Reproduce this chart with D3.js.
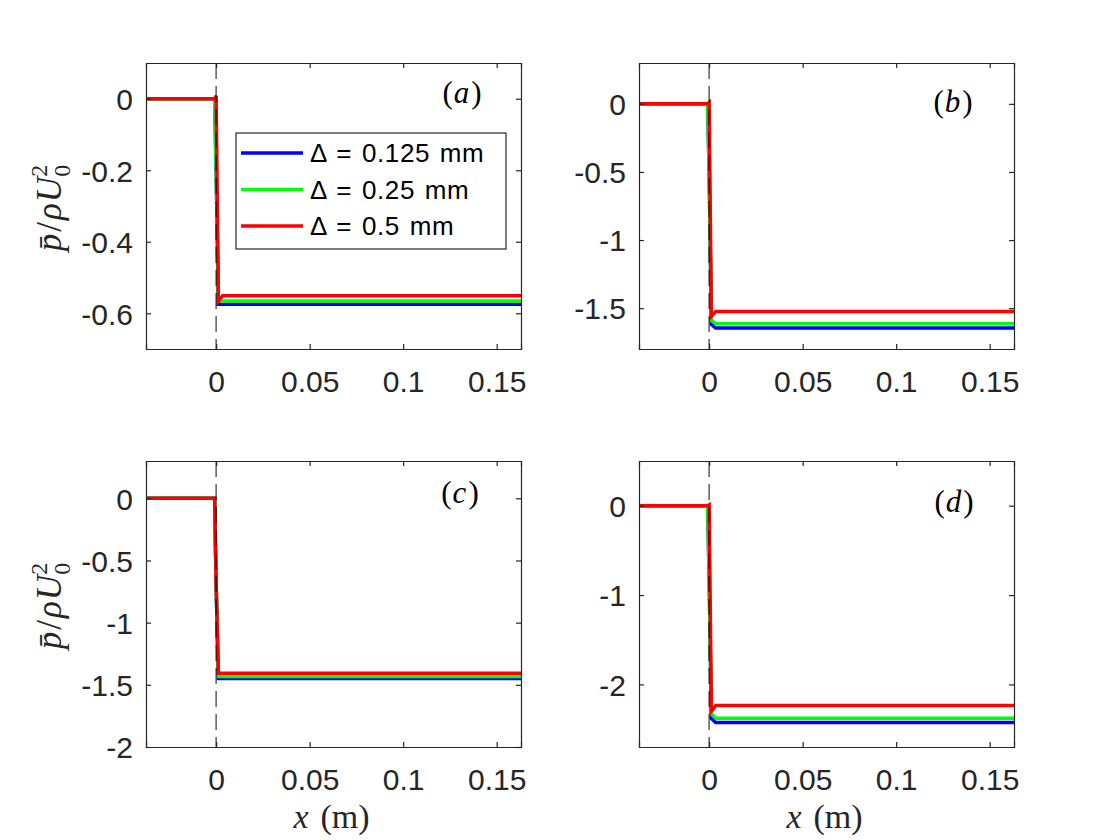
<!DOCTYPE html>
<html>
<head>
<meta charset="utf-8">
<script src="https://cdn.jsdelivr.net/npm/d3@7"></script>
<style>
  body { margin: 0; background: #fff; }
  svg { display: block; }
</style>
</head>
<body>
<div class="chart"></div>
<script>
// x samples along the channel (m), shared by every curve
const xGrid = [-0.0375, -0.0008, 0, 0.0012, 0.0035, 0.163];

// mean pressure p/rhoU0^2
const aBlue  = [0, 0, -0.2, -0.575, -0.575, -0.575];
const aGreen = [0, 0, -0.2, -0.566, -0.566, -0.566];
const aRed   = [0, 0, 0.008, -0.566, -0.551, -0.551];

const bBlue  = [0, 0, -0.5, -1.62, -1.646, -1.646];
const bGreen = [0, 0, -0.5, -1.59, -1.614, -1.614];
const bRed   = [0, 0, 0.01, -1.56, -1.524, -1.524];

const cBlue  = [0, 0, -0.7, -1.449, -1.449, -1.449];
const cGreen = [0, 0, -0.7, -1.433, -1.433, -1.433];
const cRed   = [0, 0, -0.68, -1.406, -1.406, -1.406];

const dBlue  = [0, 0, -0.8, -2.38, -2.427, -2.427];
const dGreen = [0, 0, -0.8, -2.33, -2.378, -2.378];
const dRed   = [0, 0, 0.01, -2.30, -2.237, -2.237];

const seriesNames = ["\u0394 = 0.125 mm", "\u0394 = 0.25 mm", "\u0394 = 0.5 mm"];
const seriesColors = ["#0000ff", "#00ff00", "#ff0000"];

const xTicks = [0, 0.05, 0.1, 0.15];
const xTickLabels = ["0", "0.05", "0.1", "0.15"];

const panels = [
    {tag: "a", left: 146, top: 63, yDomain: [-0.7, 0.1], yTicks: [0, -0.2, -0.4, -0.6],
     yTickLabels: ["0", "-0.2", "-0.4", "-0.6"], series: [aBlue, aGreen, aRed],
     labelX: 462, labelY: 103, yLabel: true, xLabel: false, legend: true},
    {tag: "b", left: 639, top: 63, yDomain: [-1.8, 0.3], yTicks: [0, -0.5, -1, -1.5],
     yTickLabels: ["0", "-0.5", "-1", "-1.5"], series: [bBlue, bGreen, bRed],
     labelX: 953, labelY: 112, yLabel: false, xLabel: false, legend: false},
    {tag: "c", left: 146, top: 461, yDomain: [-2, 0.3], yTicks: [0, -0.5, -1, -1.5, -2],
     yTickLabels: ["0", "-0.5", "-1", "-1.5", "-2"], series: [cBlue, cGreen, cRed],
     labelX: 460, labelY: 503, yLabel: true, xLabel: true, legend: false},
    {tag: "d", left: 639, top: 461, yDomain: [-2.7, 0.5], yTicks: [0, -1, -2],
     yTickLabels: ["0", "-1", "-2"], series: [dBlue, dGreen, dRed],
     labelX: 954, labelY: 512, yLabel: false, xLabel: true, legend: false}
];

const W = 1120, H = 840;
const boxW = 375, boxH = 286;
const axisColor = "#262626";
const tickFont = "'Liberation Sans', Arial, Helvetica, sans-serif";
const mathFont = "'Liberation Serif', 'Times New Roman', serif";

const svg = d3.select(".chart").append("svg")
    .attr("width", W)
    .attr("height", H);

function drawPanel(p) {
    const g = svg.append("g")
        .attr("transform", `translate(${p.left},${p.top})`);

    const x = d3.scaleLinear().domain([xGrid[0], xGrid[xGrid.length - 1]]).range([0, boxW]);
    const y = d3.scaleLinear().domain(p.yDomain).range([boxH, 0]);

    const clip = "clip-" + p.tag;
    g.append("clipPath").attr("id", clip)
        .append("rect").attr("width", boxW).attr("height", boxH);

    const line = d3.line()
        .x((d, i) => x(xGrid[i]))
        .y(d => y(d));

    p.series.forEach((s, i) => {
        g.append("path")
            .datum(s)
            .attr("clip-path", `url(#${clip})`)
            .attr("fill", "none")
            .attr("stroke", seriesColors[i])
            .attr("stroke-width", 3.5)
            .attr("stroke-linejoin", "miter")
            .attr("d", line);
    });

    // dashed marker at x = 0
    g.append("line")
        .attr("x1", x(0)).attr("x2", x(0))
        .attr("y1", 0).attr("y2", boxH)
        .attr("stroke", "#000")
        .attr("stroke-opacity", 0.6)
        .attr("stroke-width", 1.6)
        .attr("stroke-dasharray", "16,7");

    // axes, matlab style: ticks inward, mirrored on top and right
    const bottom = d3.axisBottom(x).tickValues(xTicks).tickSize(-5).tickFormat((d, i) => xTickLabels[i]);
    const top = d3.axisTop(x).tickValues(xTicks).tickSize(-5).tickFormat("");
    const left = d3.axisLeft(y).tickValues(p.yTicks).tickSize(-5).tickFormat((d, i) => p.yTickLabels[i]);
    const right = d3.axisRight(y).tickValues(p.yTicks).tickSize(-5).tickFormat("");

    const gb = g.append("g").attr("transform", `translate(0,${boxH})`).call(bottom);
    g.append("g").call(top);
    const gl = g.append("g").call(left);
    g.append("g").attr("transform", `translate(${boxW},0)`).call(right);

    g.selectAll(".domain").attr("stroke", axisColor).attr("stroke-width", 1.2);
    g.selectAll(".tick line").attr("stroke", axisColor).attr("stroke-width", 1.2);

    gb.selectAll("text")
        .attr("y", 43)
        .attr("dy", null)
        .style("font-family", tickFont)
        .style("font-size", "30px")
        .style("fill", axisColor);
    gl.selectAll("text")
        .attr("x", -13)
        .attr("dy", "0.36em")
        .style("font-family", tickFont)
        .style("font-size", "30px")
        .style("fill", axisColor);

    // panel tag, e.g. (a)
    const tag = svg.append("text")
        .attr("x", p.labelX)
        .attr("y", p.labelY)
        .attr("text-anchor", "middle")
        .style("font-family", mathFont)
        .style("font-size", "31px")
        .style("fill", "#000");
    tag.append("tspan").text("(");
    tag.append("tspan").attr("dx", 1).style("font-style", "italic").text(p.tag);
    tag.append("tspan").attr("dx", 2).text(")");

    if (p.yLabel) {
        const cy = p.top + boxH / 2 + 2;
        const t = svg.append("text")
            .attr("transform", `translate(61,${cy}) rotate(-90)`)
            .attr("text-anchor", "middle")
            .style("font-family", mathFont)
            .style("font-size", "35px")
            .style("fill", axisColor);
        t.append("tspan").style("font-style", "italic").text("p\u0304");
        t.append("tspan").attr("dx", 2).text("/");
        t.append("tspan").attr("dx", 2).style("font-style", "italic").text("\u03c1");
        t.append("tspan").attr("dx", 1).style("font-style", "italic").text("U");
        t.append("tspan").attr("dy", -14).style("font-size", "24px").text("2");
        t.append("tspan").attr("dx", -12).attr("dy", 23).style("font-size", "24px").text("0");
    }

    if (p.xLabel) {
        const t = svg.append("text")
            .attr("x", p.left + boxW / 2 - 2)
            .attr("y", p.top + boxH + 81)
            .attr("text-anchor", "middle")
            .style("font-family", mathFont)
            .style("font-size", "34px")
            .style("fill", axisColor);
        t.append("tspan").style("font-style", "italic").text("x");
        t.append("tspan").attr("dx", 12).text("(m)");
    }

    if (p.legend) {
        const lg = g.append("g").attr("transform", "translate(90,70)");
        lg.append("rect")
            .attr("width", 270).attr("height", 116)
            .attr("fill", "#fff")
            .attr("stroke", axisColor)
            .attr("stroke-width", 1.2);
        seriesNames.forEach((name, i) => {
            const yy = 20 + i * 36.5;
            lg.append("line")
                .attr("x1", 5).attr("x2", 67)
                .attr("y1", yy).attr("y2", yy)
                .attr("stroke", seriesColors[i])
                .attr("stroke-width", 3.5);
            lg.append("text")
                .attr("x", 74).attr("y", yy)
                .attr("dy", "0.36em")
                .style("font-family", tickFont)
                .style("font-size", "26px")
                .style("letter-spacing", "0.6px")
                .style("word-spacing", "2px")
                .style("fill", "#000")
                .text(name);
        });
    }
}

panels.forEach(drawPanel);
</script>
</body>
</html>
